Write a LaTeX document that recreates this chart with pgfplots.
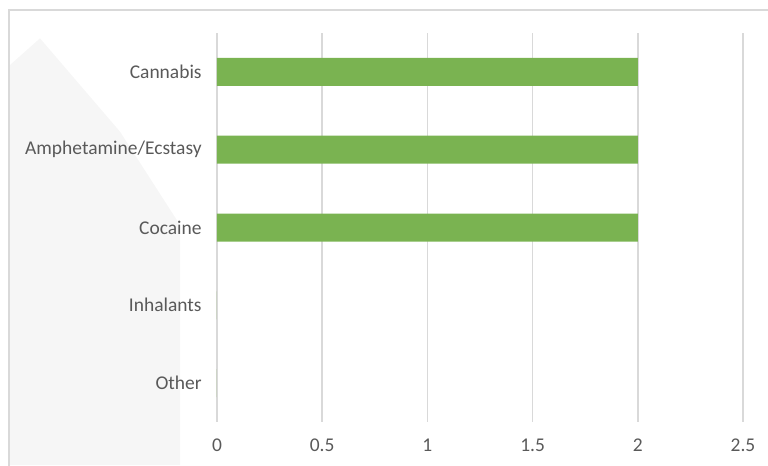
\documentclass[border=0pt]{standalone}
\usepackage{pgfplots}
\pgfplotsset{compat=1.18}
\usepackage{fontspec}
\setmainfont{Carlito}
\definecolor{bargreen}{HTML}{7AB351}
\definecolor{gridgray}{HTML}{D9D9D9}
\definecolor{labelgray}{HTML}{595959}
\definecolor{backdrop}{HTML}{F6F6F6}
\begin{document}
\begin{tikzpicture}
\useasboundingbox (0,0) rectangle (576pt,348.75pt);
% soft backdrop on the left
\fill[backdrop]
  (7.5pt,0pt) -- (7.5pt,300pt) -- (30pt,320pt) -- (90pt,250pt) -- (135pt,180pt) -- (135pt,0pt) -- cycle;
% outer frame, cut by the page edges
\draw[gridgray, line width=1pt] (6.75pt,-10pt) -- (6.75pt,341.25pt) -- (600pt,341.25pt);
\begin{axis}[
  at={(162.75pt,32.25pt)}, anchor=south west,
  scale only axis,
  width=394.5pt, height=291.75pt,
  xmin=0, xmax=2.5,
  ymin=-0.5, ymax=4.5,
  y dir=reverse,
  xtick={0,0.5,...,2.5},
  ytick={0,1,2,3,4},
  yticklabels={Cannabis,Amphetamine/Ecstasy,Cocaine,Inhalants,Other},
  xmajorgrids,
  grid style={gridgray, line width=1.1pt},
  axis line style={draw=none},
  major tick length=0pt,
  tick label style={font=\fontsize{14.6}{16}\selectfont, text=labelgray},
  /pgf/number format/assume math mode=true,
  xticklabel style={yshift=-9pt},
  yticklabel style={xshift=-8pt},
  clip=false,
]
\addplot[xbar, bar width=0.36, fill=bargreen, draw=none]
  coordinates {(2,0) (2,1) (2,2) (0,3) (0,4)};
\end{axis}
\end{tikzpicture}
\end{document}
